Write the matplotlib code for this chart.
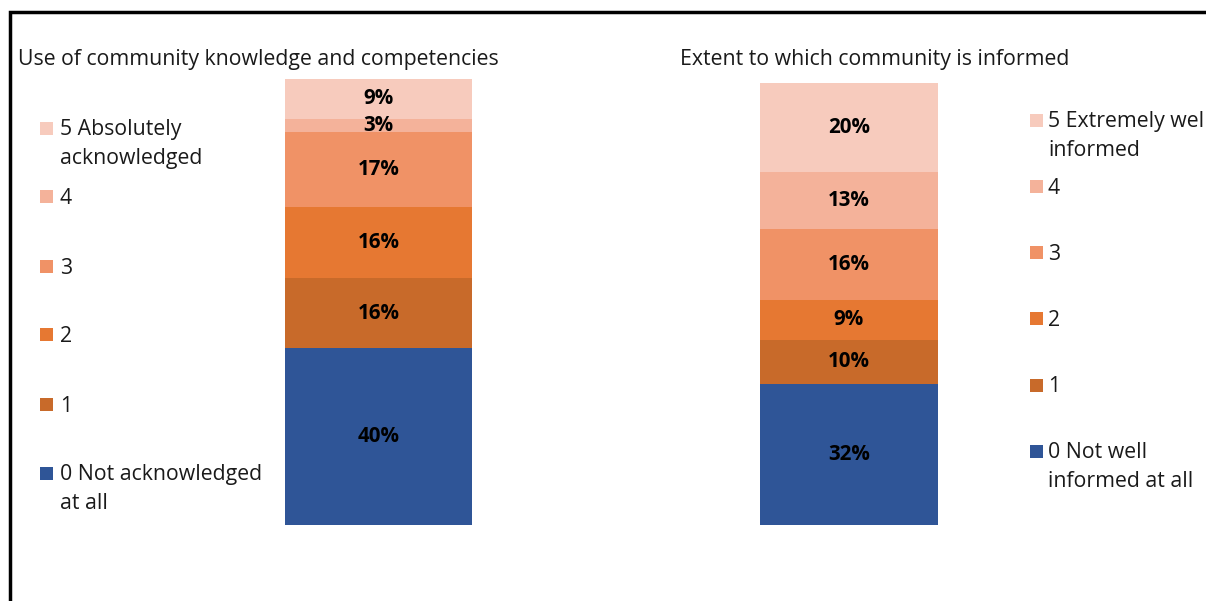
import matplotlib
matplotlib.use('Agg')
import matplotlib.pyplot as plt
from matplotlib.patches import Rectangle

plt.rcParams['font.family'] = ['Open Sans', 'DejaVu Sans']

# ── Data ─────────────────────────────────────────────────────────────────────
levels = ['0', '1', '2', '3', '4', '5']
left_title = 'Use of community knowledge and competencies'
left_labels = ['0 Not acknowledged\nat all', '1', '2', '3', '4',
               '5 Absolutely\nacknowledged']
left_values = [40, 16, 16, 17, 3, 9]

right_title = 'Extent to which community is informed'
right_labels = ['0 Not well\ninformed at all', '1', '2', '3', '4',
                '5 Extremely well\ninformed']
right_values = [32, 10, 9, 16, 13, 20]

COLORS = ['#2F5597', '#C86A2A', '#E67832', '#F09266', '#F4B29A', '#F7CBBD']
TEXT = '#1a1a1a'
FS = 15.3

W, H = 1206, 601
fig = plt.figure(figsize=(W / 100, H / 100), dpi=100, facecolor='white')


def px(x, y):
    # pixel coords (top-left origin) -> figure fraction
    return x / W, 1 - y / H


def stacked(x0, x1, values, title, title_x, title_y):
    ax = fig.add_axes([x0 / W, (H - 525) / H, (x1 - x0) / W, (525 - 79) / H])
    bottom = 0
    for v, c in zip(values, COLORS):
        ax.bar(0, v, width=1.0, bottom=bottom, color=c, edgecolor='none')
        ax.text(0, bottom + v / 2, f'{v}%', ha='center', va='center',
                fontsize=14.8, fontweight='bold', color='black')
        bottom += v
    ax.set_xlim(-0.5, 0.5)
    ax.set_ylim(0, 101)
    ax.axis('off')
    tx, ty = px(title_x, title_y)
    fig.text(tx, ty, title, ha='left', va='center', fontsize=FS, color=TEXT)
    return ax


def legend(sq_x, gap, sq_ys, labels):
    for y, lab, c in zip(sq_ys, labels, COLORS):
        fx, fy = px(sq_x, y)
        fig.patches.append(Rectangle((fx, fy - 6.5 / H), 13 / W, 13 / H,
                                     transform=fig.transFigure,
                                     facecolor=c, edgecolor='none'))
        # two-line entries: first line level with the square
        ty = y + 2 + (14 if '\n' in lab else 0)
        tx, tyf = px(sq_x + 13 + gap, ty)
        fig.text(tx, tyf, lab, ha='left', va='center',
                 fontsize=FS, color=TEXT, linespacing=1.49,
                 transform=fig.transFigure)


stacked(285, 472, left_values, left_title, 18, 59)
stacked(760, 938, right_values, right_title, 680, 60)

legend(40, 7, [473, 404, 335, 266, 197, 128], left_labels)
legend(1030, 5, [451, 385, 318, 252, 187, 120], right_labels)

# outer frame (runs off the right and bottom edges)
fig.patches.append(Rectangle((10 / W, -0.1), 1.2, 1 - 12 / H + 0.1,
                             transform=fig.transFigure, fill=False,
                             edgecolor='black', linewidth=2.5))

fig.savefig('out.png', dpi=100, facecolor='white')
